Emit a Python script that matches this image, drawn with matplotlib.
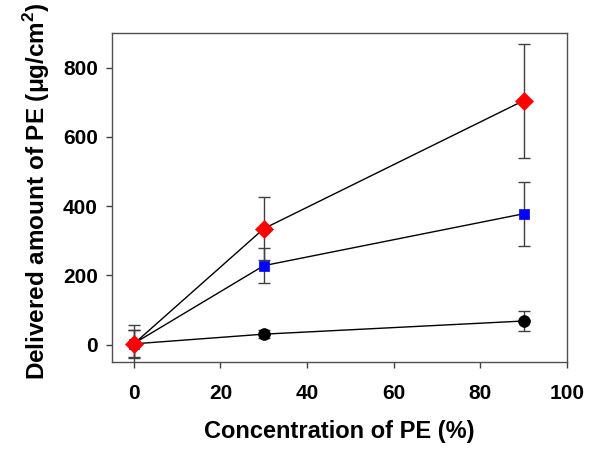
import matplotlib
matplotlib.use("Agg")
import matplotlib.pyplot as plt

plt.rcParams['font.family'] = ['Liberation Sans', 'DejaVu Sans']
plt.rcParams['mathtext.fontset'] = 'custom'
plt.rcParams['mathtext.rm'] = 'Liberation Sans:bold'
plt.rcParams['mathtext.bf'] = 'Liberation Sans:bold'

conc = [0, 30, 90]
black_vals = [2, 30, 68]
black_err = [40, 12, 30]
blue_vals = [3, 228, 378]
blue_err = [40, 50, 92]
red_vals = [2, 335, 705]
red_err = [55, 92, 165]

xticks = [0, 20, 40, 60, 80, 100]
yticks = [0, 200, 400, 600, 800]

fig = plt.figure(figsize=(6.0, 4.54), dpi=100)
ax = fig.add_axes([0.187, 0.203, 0.758, 0.724])

series = [
    (black_vals, black_err, 'o', 'black', 8.5),
    (blue_vals, blue_err, 's', '#0000ff', 7.5),
    (red_vals, red_err, 'D', '#ff0000', 9.5),
]
for vals, err, m, c, ms in series:
    ax.errorbar(conc, vals, yerr=err, fmt='none', ecolor='#404040',
                elinewidth=1.0, capsize=4, capthick=1.0, zorder=2)
    ax.plot(conc, vals, '-', color='black', lw=1.0, zorder=3)
    ax.plot(conc, vals, m, color=c, markersize=ms, markeredgecolor=c,
            markeredgewidth=0.5, zorder=4)

ax.set_xlim(-5, 100)
ax.set_ylim(-50, 900)
ax.set_xticks(xticks)
ax.set_yticks(yticks)
ax.tick_params(direction='out', length=4.3, width=1, labelsize=15, color='#404040')
ax.tick_params(axis='x', pad=12)
ax.tick_params(axis='y', pad=6)
for lab in ax.get_xticklabels() + ax.get_yticklabels():
    lab.set_fontweight('bold')
for s in ax.spines.values():
    s.set_linewidth(1.0)
    s.set_color('#505050')

ax.set_xlabel('Concentration of PE (%)', fontsize=17, fontweight='bold', labelpad=12)
ax.set_ylabel('Delivered amount of PE (\u03bcg/cm$^\\mathbf{2}$)', fontsize=17.5,
              fontweight='bold', labelpad=6)
ax.yaxis.set_label_coords(-0.132, 0.52)

fig.savefig('out.png', dpi=100)
